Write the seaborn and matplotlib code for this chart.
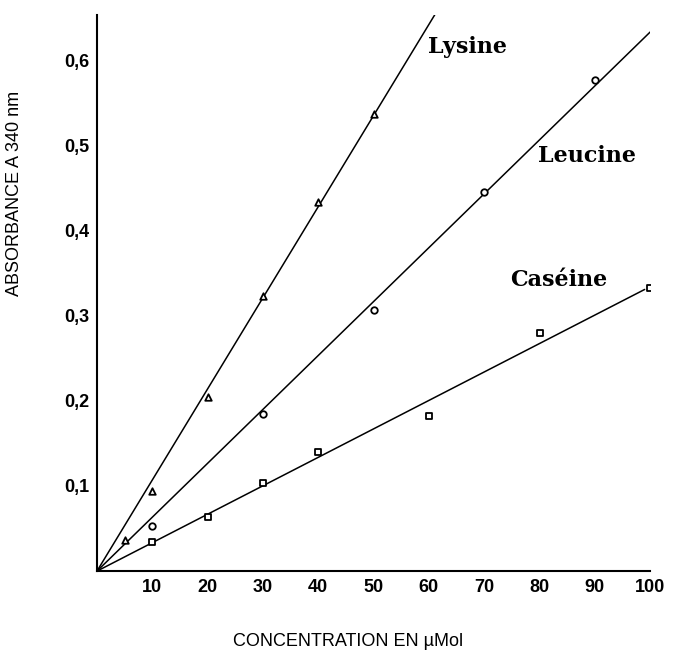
import matplotlib
matplotlib.use("Agg")
import matplotlib.pyplot as plt
import numpy as np
import pandas as pd
import seaborn as sns

sns.set_theme(style="white")
plt.rcParams['font.family'] = ['Liberation Sans', 'DejaVu Sans']
plt.rcParams['text.color'] = 'black'
plt.rcParams['axes.labelcolor'] = 'black'

# Data: concentration (µMol) vs absorbance at 340 nm
lysine_x = [5, 10, 20, 30, 40, 50]
lysine_y = [0.037, 0.094, 0.205, 0.323, 0.434, 0.537]
leucine_x = [10, 30, 50, 70, 90]
leucine_y = [0.053, 0.184, 0.307, 0.445, 0.577]
caseine_x = [10, 20, 30, 40, 60, 80, 100]
caseine_y = [0.034, 0.064, 0.104, 0.140, 0.182, 0.280, 0.332]

x_ticks = [10, 20, 30, 40, 50, 60, 70, 80, 90, 100]
y_ticks = [0.1, 0.2, 0.3, 0.4, 0.5, 0.6]
y_ticklabels = ['0,1', '0,2', '0,3', '0,4', '0,5', '0,6']

fig = plt.figure(figsize=(6.78, 6.58), dpi=100)
ax = fig.add_axes([0.143, 0.132, 0.816, 0.845])

series = [
    ('Lysine', lysine_x, lysine_y, '^', 62, (67, 0.616)),
    ('Leucine', leucine_x, leucine_y, 'o', 100, (88.5, 0.487)),
    ('Caséine', caseine_x, caseine_y, 's', 99, (83.5, 0.342)),
]

for name, xs, ys, marker, x_end, label_pos in series:
    df = pd.DataFrame({'x': xs, 'y': ys})
    # straight line through origin (least squares)
    xa, ya = np.array(xs, float), np.array(ys, float)
    slope = (xa * ya).sum() / (xa * xa).sum()
    line = pd.DataFrame({'x': [0, x_end], 'y': [0, slope * x_end]})
    sns.lineplot(data=line, x='x', y='y', ax=ax, color='black', lw=1.1)
    sns.scatterplot(data=df, x='x', y='y', ax=ax, marker=marker, s=22,
                    facecolor='white', edgecolor='black', linewidth=1.3, zorder=3)
    ax.text(label_pos[0], label_pos[1], name, ha='center', va='center',
            fontsize=16, fontweight='bold', family='DejaVu Serif', color='black')

ax.set_xlim(0, 100)
ax.set_ylim(0, 0.653)
ax.set_xticks(x_ticks)
ax.set_yticks(y_ticks)
ax.set_yticklabels(y_ticklabels)
ax.tick_params(axis='both', direction='inout', length=5, width=1, color='black',
               labelsize=13, labelcolor='black', pad=3)
for lab in ax.get_xticklabels() + ax.get_yticklabels():
    lab.set_fontweight('bold')

sns.despine(ax=ax)
for side in ['left', 'bottom']:
    ax.spines[side].set_color('black')
    ax.spines[side].set_linewidth(1.5)

ax.set_xlabel('CONCENTRATION EN µMol', fontsize=13)
ax.set_ylabel('ABSORBANCE A 340 nm', fontsize=13)
ax.xaxis.set_label_coords(0.454, -0.112)
ax.yaxis.set_label_coords(-0.134, 0.68)

fig.savefig('out.png', dpi=100)
